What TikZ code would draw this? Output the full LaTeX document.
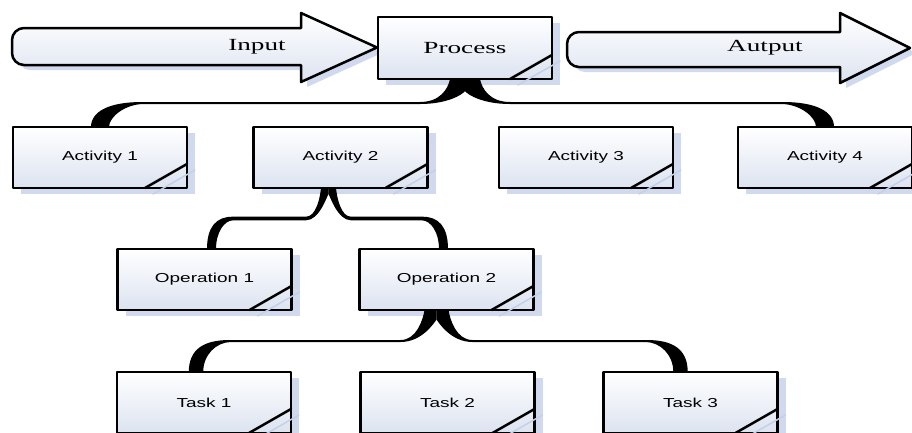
\documentclass[tikz,border=0pt]{standalone}
\usepackage{fontspec}
\setmainfont{Liberation Serif}[FakeStretch=1.6]
\newfontfamily\boxfont{Liberation Sans}[FakeStretch=1.46]
\usetikzlibrary{calc,shadows}
\definecolor{boxblue}{RGB}{220,227,240}
\definecolor{shadeblue}{RGB}{196,208,232}

\tikzset{
  box/.style={draw,line width=2.5pt,outer sep=0pt,top color=white,bottom color=boxblue,
    drop shadow={shadow xshift=8pt,shadow yshift=-6pt,fill=shadeblue,opacity=.8},
    minimum width=174pt,minimum height=61pt,font=\boxfont\fontsize{13}{15}\selectfont},
  flow/.style={draw,line width=2.5pt,top color=white,bottom color=boxblue,
    drop shadow={shadow xshift=6pt,shadow yshift=-5pt,fill=shadeblue,opacity=.8}},
  flowtext/.style={font=\rmfamily\fontsize{17}{19}\selectfont},
  fold/.style={line width=2.5pt},
  foldshade/.style={line width=1.5pt,shadeblue}
}

\begin{document}
\begin{tikzpicture}[x=1pt,y=1pt,line join=round,line cap=round]
\useasboundingbox (0,0) rectangle (912,-432);

\draw[flow] (301,-28) -- (24,-28) arc[start angle=90,end angle=180,radius=12] -- (12,-53)
  arc[start angle=180,end angle=270,radius=12] -- (301,-65) -- (301,-82) -- (377,-47.5) -- (301,-13) -- cycle;
\node[flowtext] (inp) at (257,-47) {Input};

\draw[flow] (840,-32) -- (579,-32) arc[start angle=90,end angle=180,radius=12] -- (567,-55)
  arc[start angle=180,end angle=270,radius=12] -- (840,-67) -- (840,-83) -- (910,-48) -- (840,-13) -- cycle;
\node[flowtext] (outp) at (765,-48) {Autput};

\node[box,minimum height=62pt,flowtext] (proc) at (465,-48) {Process};

\node[box] (act1) at (100,-157.5) {Activity 1};
\node[box] (act2) at (340.5,-157.5) {Activity 2};
\node[box] (act3) at (586,-157.5) {Activity 3};
\node[box] (act4) at (825,-157.5) {Activity 4};

\node[box] (op1) at (204.5,-279.5) {Operation 1};
\node[box] (op2) at (446.5,-279.5) {Operation 2};

\node[box] (task1) at (204,-402.5) {Task 1};
\node[box] (task2) at (447.5,-402.5) {Task 2};
\node[box] (task3) at (690.5,-402.5) {Task 3};

\def\twig#1#2#3#4{%
\fill let \p1=(#1), \p2=(#2), \n1={sign(\x2-\x1)}, \n2={(\y1+\y2)/2}, \n3={(#3)*(\n1)} in
  (\x1,\y1) -- ({\x1+15*\n3},\y1)
  .. controls ({\x1+17*\n3},{\y1-10}) and ({\x1+25*\n3},{\n2+#4}) .. ({\x1+45*\n3},{\n2+#4})
  -- ({\x2-42*\n3},{\n2+#4})
  .. controls ({\x2-10*\n3},{\n2+#4}) and ({\x2+9*\n3},{\n2-8}) .. ({\x2+9*\n3},\y2)
  -- ({\x2-9*\n3},\y2)
  .. controls ({\x2-9*\n3},{\n2-14}) and ({\x2-25*\n3},{\n2-#4}) .. ({\x2-44*\n3},{\n2-#4})
  -- ({\x1+45*\n3},{\n2-#4})
  .. controls ({\x1+18*\n3},{\n2-#4}) and ({\x1+3*\n3},{\y1-16*#3}) .. (\x1,{\y1-12*#3})
  -- cycle;}

\twig{proc.south}{act1.north}{1}{1}
\twig{proc.south}{act4.north}{1}{1}
\twig{[xshift=-12pt]act2.south}{[xshift=7pt]op1.north}{0.5}{1.8}
\twig{[xshift=-12pt]act2.south}{[xshift=-3pt]op2.north}{0.5}{1.8}
\twig{[xshift=-10pt]op2.south}{[xshift=-8pt]task1.north}{0.8}{1}
\twig{[xshift=-10pt]op2.south}{[xshift=-10pt]task3.north}{0.8}{1}

\foreach \b in {proc,act1,act2,act3,act4,op1,op2,task1,task2,task3}{
  \draw[foldshade] ([shift={(8,-6)}]\b.south east) ++(0,24) -- ++(-42,-24);
  \draw[fold] (\b.south east) ++(0,24) -- ++(-42,-24);
}
\end{tikzpicture}
\end{document}
